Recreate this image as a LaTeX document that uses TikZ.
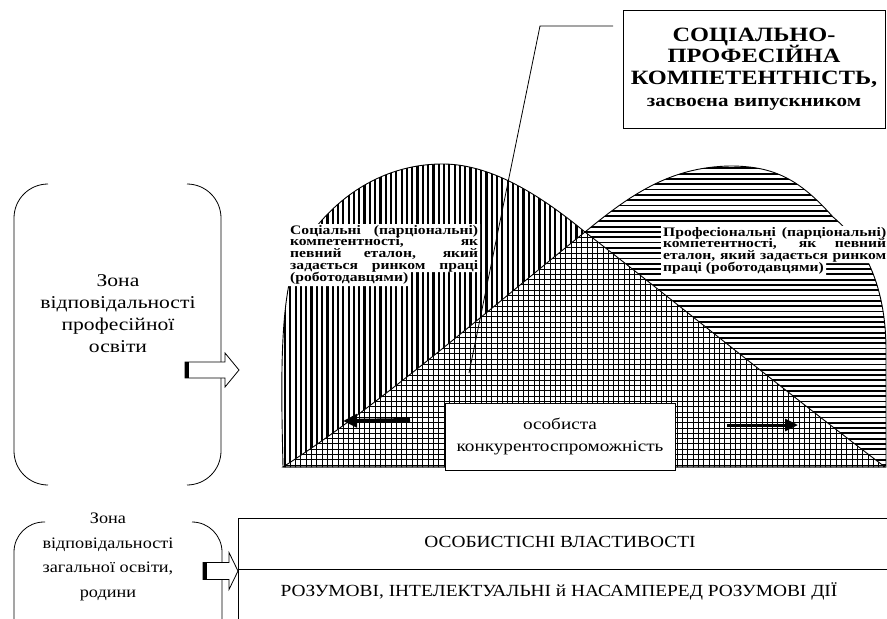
\documentclass[tikz,border=0pt]{standalone}
\usepackage{fontspec}
\setmainfont{Liberation Serif}
\newfontfamily\wideserif[FakeStretch=1.2]{Liberation Serif}
\newfontfamily\plainserif[FakeStretch=1.14]{Liberation Serif}
\newcommand\notefont{\wideserif\bfseries\fontsize{13}{11.7}\selectfont\lineskiplimit=-6pt\relax}
\usetikzlibrary{positioning,arrows.meta}

\begin{document}
\begin{tikzpicture}[x=1pt, y=-1pt, every node/.style={inner sep=0pt}]
\useasboundingbox (0,0) rectangle (887,619);

\def\leftdome{(283,467) .. controls (281,380) and (279,290) .. (300,250) .. controls (330,200) and (380,165) .. (440,164) .. controls (490,163) and (540,195) .. (585,232) .. controls (660,290) and (790,395) .. (885,467) -- cycle}
\def\rightdome{(283,467) .. controls (380,405) and (500,300) .. (585,232) .. controls (630,195) and (670,167) .. (730,166) .. controls (775,166) and (800,180) .. (833,217) .. controls (870,248) and (886,295) .. (886,350) -- (886,467) -- cycle}

% hatching of the two domes
\begin{scope}
\clip \leftdome;
\foreach \x in {285,290.3,...,886} \draw[line width=2.2pt] (\x,150) -- (\x,470);
\end{scope}
\begin{scope}
\clip \rightdome;
\foreach \y in {163,168.3,...,470} \draw[line width=1.8pt] (280,\y) -- (890,\y);
\end{scope}
\begin{scope}
\clip \leftdome;
\clip \rightdome;
\fill[white] (280,150) rectangle (890,470);
\foreach \x in {285,290.3,...,886} \draw[line width=0.9pt] (\x,150) -- (\x,470);
\foreach \y in {163,168.3,...,470} \draw[line width=0.9pt] (280,\y) -- (890,\y);
\end{scope}
\draw[line width=0.9pt] \leftdome;
\draw[line width=0.9pt] \rightdome;

% white ground under the two notes
\fill[white] (288,224) -- (480,224) -- (480,272) -- (409,272) -- (409,286) -- (288,286) -- cycle;
\fill[white] (661,226) -- (887,226) -- (887,263) -- (826,263) -- (826,276) -- (661,276) -- cycle;

\begin{scope}[every node/.style={anchor=north west, inner sep=0pt, align=justify, font=\notefont}]
\node[text width=188pt] (social) at (290,225) {Соціальні (парціональні)\linebreak компетентності, як\linebreak певний еталон, який\linebreak задається ринком праці\linebreak (роботодавцями)};
\node[text width=223pt] (prof) at (663,227) {Професіональні (парціональні)\linebreak компетентності, як певний\linebreak еталон, який задається ринком\linebreak праці (роботодавцями)};
\end{scope}

% title box and its leader
\node[draw, line width=1pt, fill=white, minimum width=262pt, minimum height=118pt,
  align=center, font=\wideserif\bfseries\fontsize{20.3}{21.7}\selectfont] (spc) at (754,69)
  {СОЦІАЛЬНО-\\ПРОФЕСІЙНА\\КОМПЕТЕНТНІСТЬ,\\{\fontsize{17.5}{21.7}\selectfont засвоєна випускником}};
\coordinate (leadA) at (613,26);
\coordinate (leadB) at (540,26);
\coordinate (leadC) at (469,373);
\draw[line width=0.8pt] (leadA) -- (leadB) -- (leadC);

\node[draw, line width=0.8pt, fill=white, minimum width=230pt, minimum height=67pt,
  align=center, font=\wideserif\fontsize{16}{22}\selectfont] (own) at (560,436.5)
  {особиста\\конкурентоспроможність};

\coordinate (lfA) at (410,420);
\coordinate (lfB) at (343,421);
\coordinate (rtA) at (727,425);
\coordinate (rtB) at (798,425);
\draw[line width=4pt, -{Triangle[length=14pt,width=13pt]}] (lfA) -- (lfB);
\draw[line width=3pt, -{Triangle[length=13pt,width=12pt]}] (rtA) -- (rtB);

% zones
\draw[line width=0.8pt, rounded corners=34pt] (48,184) -- (14,184) -- (14,485) -- (48,485);
\draw[line width=0.8pt, rounded corners=34pt] (187,184) -- (221,184) -- (221,485) -- (187,485);
\node[align=center, font=\wideserif\fontsize{18}{22}\selectfont] (zone1) at (118,314)
  {Зона\\відповідальності\\професійної\\освіти};

\draw[line width=0.8pt, rounded corners=30pt] (45,522) -- (14,522) -- (14,640);
\draw[line width=0.8pt, rounded corners=30pt] (192,522) -- (222,522) -- (222,640);
\node[align=center, font=\plainserif\fontsize{16}{24.5}\selectfont] (zone2) at (108,557)
  {Зона\\відповідальності\\загальної освіти,\\родини};

% hollow arrows
\coordinate (arrA) at (185,370);
\draw[line width=0.8pt, fill=white] (arrA) ++(0,-8) -- ++(40,0) -- ++(0,-9) -- ++(14,17) -- ++(-14,17) -- ++(0,-9) -- ++(-40,0) -- cycle;
\fill (arrA) ++(0,-8) rectangle ++(4,16);
\coordinate (arrB) at (203,571);
\draw[line width=0.8pt, fill=white] (arrB) ++(0,-8.5) -- ++(26,0) -- ++(0,-10) -- ++(9,18.5) -- ++(-9,18.5) -- ++(0,-10) -- ++(-26,0) -- cycle;
\fill (arrB) ++(0,-8.5) rectangle ++(4,17);

% lower box
\draw[line width=1pt] (887,518) -- (238,518) -- (238,625);
\draw[line width=0.6pt] (238,569) -- (887,569);
\node[font=\plainserif\fontsize{17}{22}\selectfont] (traits) at (560,542) {ОСОБИСТІСНІ ВЛАСТИВОСТІ};
\node[font=\plainserif\fontsize{17}{22}\selectfont] (acts) at (559,591) {РОЗУМОВІ, ІНТЕЛЕКТУАЛЬНІ й НАСАМПЕРЕД РОЗУМОВІ ДІЇ};
\end{tikzpicture}
\end{document}
